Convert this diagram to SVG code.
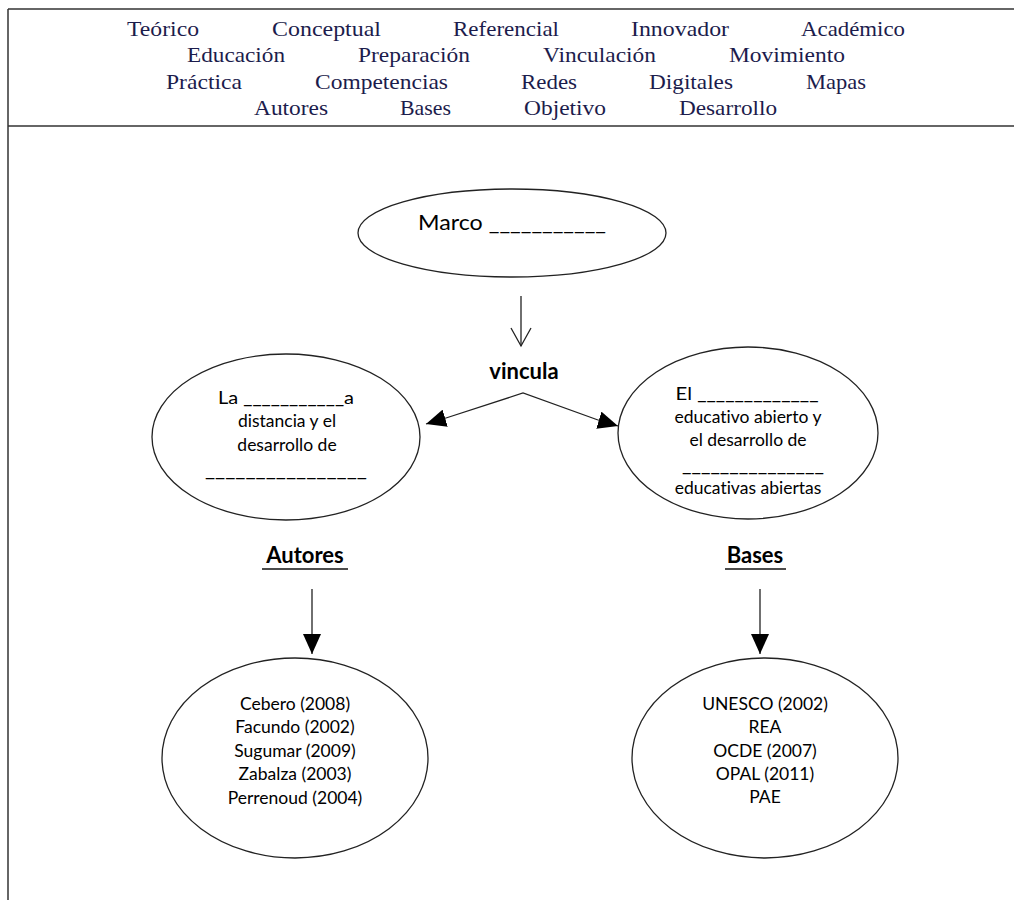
<svg xmlns="http://www.w3.org/2000/svg" width="1014" height="900" viewBox="0 0 1014 900">
<defs>
<style>
.frame{stroke:#333;stroke-width:1.5;fill:none}
.word{font-family:"Liberation Serif",serif;font-size:22px;fill:#1c1c4c}
.node{fill:#fff;stroke:#222;stroke-width:1.3}
.t{font-family:Lato,"Liberation Sans",sans-serif;font-size:17.5px;fill:#000;text-anchor:middle;font-variant-ligatures:none}
.big{font-family:Lato,"Liberation Sans",sans-serif;font-size:22px;fill:#000;text-anchor:middle;font-variant-ligatures:none}
.bold{font-weight:bold}
.line{stroke:#222;stroke-width:1.3;fill:none}
</style>
<marker id="tri" viewBox="0 0 20 18" refX="20" refY="9" markerWidth="20" markerHeight="18" markerUnits="userSpaceOnUse" orient="auto">
<path d="M0,0 L20,9 L0,18 Z" fill="#000"/>
</marker>
</defs>
<rect width="1014" height="900" fill="#fff"/>
<g id="frame">
<line class="frame" x1="8" y1="9" x2="1014" y2="9"/>
<line class="frame" x1="8" y1="9" x2="8" y2="900"/>
<line class="frame" x1="8" y1="126" x2="1014" y2="126"/>
</g>
<g id="wordbank">
<text class="word" x="127" y="36" textLength="72" lengthAdjust="spacingAndGlyphs">Teórico</text>
<text class="word" x="272" y="36" textLength="109" lengthAdjust="spacingAndGlyphs">Conceptual</text>
<text class="word" x="453" y="36" textLength="106" lengthAdjust="spacingAndGlyphs">Referencial</text>
<text class="word" x="631" y="36" textLength="98" lengthAdjust="spacingAndGlyphs">Innovador</text>
<text class="word" x="801" y="36" textLength="104" lengthAdjust="spacingAndGlyphs">Académico</text>
<text class="word" x="187" y="62" textLength="98" lengthAdjust="spacingAndGlyphs">Educación</text>
<text class="word" x="358" y="62" textLength="112" lengthAdjust="spacingAndGlyphs">Preparación</text>
<text class="word" x="543" y="62" textLength="113" lengthAdjust="spacingAndGlyphs">Vinculación</text>
<text class="word" x="729" y="62" textLength="116" lengthAdjust="spacingAndGlyphs">Movimiento</text>
<text class="word" x="166" y="89" textLength="76" lengthAdjust="spacingAndGlyphs">Práctica</text>
<text class="word" x="315" y="89" textLength="133" lengthAdjust="spacingAndGlyphs">Competencias</text>
<text class="word" x="521" y="89" textLength="56" lengthAdjust="spacingAndGlyphs">Redes</text>
<text class="word" x="649" y="89" textLength="84" lengthAdjust="spacingAndGlyphs">Digitales</text>
<text class="word" x="806" y="89" textLength="60" lengthAdjust="spacingAndGlyphs">Mapas</text>
<text class="word" x="254" y="115" textLength="74" lengthAdjust="spacingAndGlyphs">Autores</text>
<text class="word" x="400" y="115" textLength="51" lengthAdjust="spacingAndGlyphs">Bases</text>
<text class="word" x="524" y="115" textLength="82" lengthAdjust="spacingAndGlyphs">Objetivo</text>
<text class="word" x="679" y="115" textLength="98" lengthAdjust="spacingAndGlyphs">Desarrollo</text>
</g>
<g id="connectors">
<line class="line" x1="521" y1="296" x2="521" y2="346"/>
<polyline class="line" points="511,328 521,346 531,328"/>
<polyline class="line" points="446,418 523,393 598,420"/>
<line class="line" x1="446" y1="418" x2="426" y2="424" marker-end="url(#tri)"/>
<line class="line" x1="598" y1="420" x2="618" y2="426" marker-end="url(#tri)"/>
<line class="line" x1="312" y1="589" x2="312" y2="654" marker-end="url(#tri)"/>
<line class="line" x1="760" y1="589" x2="760" y2="654" marker-end="url(#tri)"/>
</g>
<g id="marco">
<ellipse class="node" cx="512" cy="233" rx="154" ry="44"/>
<text class="big" x="512" y="230" textLength="188" lengthAdjust="spacingAndGlyphs">Marco ___________</text>
</g>
<g id="vincula">
<text class="big bold" x="524" y="379" font-size="23">vincula</text>
</g>
<g id="left-node">
<ellipse class="node" cx="286" cy="437" rx="134" ry="83"/>
<text class="t" x="286" y="404" textLength="136" lengthAdjust="spacingAndGlyphs">La ___________a</text>
<text class="t" x="287" y="427" font-size="18">distancia y el</text>
<text class="t" x="287" y="451" font-size="18">desarrollo de</text>
<text class="t" x="286" y="477" textLength="162" lengthAdjust="spacingAndGlyphs">________________</text>
</g>
<g id="right-node">
<ellipse class="node" cx="748" cy="433" rx="130" ry="86"/>
<text class="t" x="747" y="400" textLength="143" lengthAdjust="spacingAndGlyphs">El _____________</text>
<text class="t" x="748" y="423" font-size="18">educativo abierto y</text>
<text class="t" x="748" y="446" font-size="18">el desarrollo de</text>
<text class="t" x="753" y="472" textLength="142" lengthAdjust="spacingAndGlyphs">_______________</text>
<text class="t" x="748" y="494" font-size="18">educativas abiertas</text>
</g>
<g id="autores">
<text class="big bold" x="305" y="563" font-size="23">Autores</text>
<line x1="262" y1="569" x2="348" y2="569" stroke="#111" stroke-width="1.3"/>
</g>
<g id="bases">
<text class="big bold" x="755" y="563" font-size="23">Bases</text>
<line x1="725" y1="569" x2="786" y2="569" stroke="#111" stroke-width="1.3"/>
</g>
<g id="authors-node">
<ellipse class="node" cx="295" cy="758" rx="133" ry="100"/>
<text class="t" x="295" y="710">Cebero (2008)</text>
<text class="t" x="295" y="733">Facundo (2002)</text>
<text class="t" x="295" y="757">Sugumar (2009)</text>
<text class="t" x="295" y="780">Zabalza (2003)</text>
<text class="t" x="295" y="804">Perrenoud (2004)</text>
</g>
<g id="bases-node">
<ellipse class="node" cx="765" cy="758" rx="133" ry="100"/>
<text class="t" x="765" y="710">UNESCO (2002)</text>
<text class="t" x="765" y="733">REA</text>
<text class="t" x="765" y="757">OCDE (2007)</text>
<text class="t" x="765" y="780">OPAL (2011)</text>
<text class="t" x="765" y="803">PAE</text>
</g>
</svg>
